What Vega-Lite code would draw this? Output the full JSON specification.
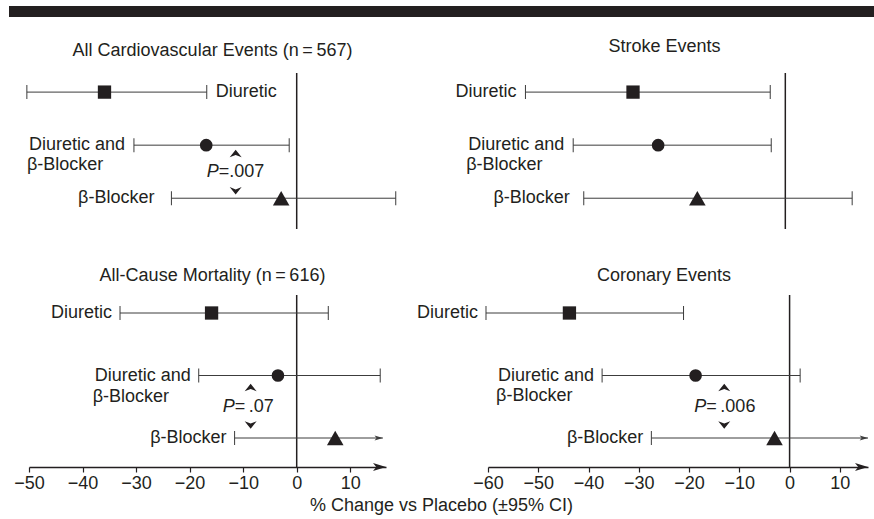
{
"$schema": "https://vega.github.io/schema/vega-lite/v6.json",
"padding": {"left": 9, "top": 6, "right": 0, "bottom": 2},
"background": "white",
"config": {
  "font": "Liberation Sans",
  "view": {"stroke": null},
  "title": {"fontSize": 18, "fontWeight": "normal", "color": "#231f20", "font": "Liberation Sans"},
  "text": {"fontSize": 18, "color": "#231f20", "font": "Liberation Sans"}
},
"datasets": {
  "ref": [{"change": 0}],
  "ci": [
    {"panel": "TL", "group": "Diuretic", "row": 1, "lo": -50.4, "est": -35.9, "hi": -16.8, "label": "Diuretic"},
    {"panel": "TL", "group": "Both", "row": 2, "lo": -30.4, "est": -16.9, "hi": -1.4, "label": "Diuretic and", "label2": "β-Blocker"},
    {"panel": "TL", "group": "Beta", "row": 3, "lo": -23.4, "est": -2.9, "hi": 18.5, "label": "β-Blocker"},
    {"panel": "TR", "group": "Diuretic", "row": 1, "lo": -51.7, "est": -30.3, "hi": -3.0, "label": "Diuretic"},
    {"panel": "TR", "group": "Both", "row": 2, "lo": -42.2, "est": -25.3, "hi": -2.8, "label": "Diuretic and", "label2": "β-Blocker"},
    {"panel": "TR", "group": "Beta", "row": 3, "lo": -40.1, "est": -17.5, "hi": 13.3, "label": "β-Blocker"},
    {"panel": "BL", "group": "Diuretic", "row": 1, "lo": -33.0, "est": -15.9, "hi": 5.9, "label": "Diuretic"},
    {"panel": "BL", "group": "Both", "row": 2, "lo": -18.3, "est": -3.5, "hi": 15.6, "label": "Diuretic and", "label2": "β-Blocker"},
    {"panel": "BL", "group": "Beta", "row": 3, "lo": -11.6, "est": 7.2, "hi": 16.1, "label": "β-Blocker", "truncated": true},
    {"panel": "BR", "group": "Diuretic", "row": 1, "lo": -60.4, "est": -43.8, "hi": -21.1, "label": "Diuretic"},
    {"panel": "BR", "group": "Both", "row": 2, "lo": -37.3, "est": -18.7, "hi": 2.1, "label": "Diuretic and", "label2": "β-Blocker"},
    {"panel": "BR", "group": "Beta", "row": 3, "lo": -27.5, "est": -3.0, "hi": 15.6, "label": "β-Blocker", "truncated": true}
  ],
  "pv": [
    {"panel": "TL", "px": -11.4, "p": "=.007"},
    {"panel": "BL", "px": -8.6, "p": "\u2009=\u2009.07"},
    {"panel": "BR", "px": -13.0, "p": "\u2009=\u2009.006"}
  ]
},
"title": {"text": "% Change vs Placebo (±95% CI)", "orient": "bottom", "anchor": "middle", "fontSize": 18, "fontWeight": "normal", "color": "#231f20", "offset": 5},
"bounds": "flush",
"spacing": 56,
"resolve": {"scale": {"x": "independent", "y": "independent"}},
"vconcat": [
  {"width": 865, "height": 11, "data": {"values": []}, "mark": "point", "view": {"fill": "#231f20", "stroke": null}},
  {"bounds": "flush", "spacing": 0, "resolve": {"scale": {"x": "independent", "y": "independent"}},
   "hconcat": [
    {"width": 20, "height": 10, "data": {"values": []}, "mark": "point"},
    {"bounds": "flush", "columns": 2, "align": "each", "spacing": {"row": 66, "column": 102},
     "resolve": {"scale": {"x": "independent", "y": "independent"}},
     "concat": [
        {"width": 357, "height": 156,
         "title": {"text": "All Cardiovascular Events (n\u2009=\u2009567)", "anchor": "middle", "dx": 5, "offset": 12},
         "layer": [
          {"data": {"name": "ref"}, "mark": {"type": "rule", "color": "#231f20", "strokeWidth": 1.5},
           "encoding": {"x": {"field": "change", "type": "quantitative", "scale": {"domain": [-50, 16.68], "nice": false, "zero": false}, "axis": null}}},
          {"data": {"name": "ci"}, "transform": [{"filter": "datum.panel === 'TL'"}],
           "layer": [
            {"mark": {"type": "rule", "color": "#3c3c3c", "strokeWidth": 1},
             "encoding": {"x": {"field": "lo", "type": "quantitative", "axis": null}, "x2": {"field": "hi"},
                          "y": {"field": "row", "type": "quantitative", "scale": {"domain": [0.64, 3.58], "nice": false, "zero": false, "reverse": true}, "axis": null}}},
            {"mark": {"type": "tick", "orient": "vertical", "size": 14, "thickness": 1, "color": "#3c3c3c", "opacity": 1},
             "encoding": {"x": {"field": "lo", "type": "quantitative", "axis": null}, "y": {"field": "row", "type": "quantitative", "axis": null}}},
            {"transform": [{"filter": "!datum.truncated"}],
             "mark": {"type": "tick", "orient": "vertical", "size": 14, "thickness": 1, "color": "#3c3c3c", "opacity": 1},
             "encoding": {"x": {"field": "hi", "type": "quantitative", "axis": null}, "y": {"field": "row", "type": "quantitative", "axis": null}}},
            {"mark": {"type": "point", "filled": true, "opacity": 1, "color": "#231f20"},
             "encoding": {"x": {"field": "est", "type": "quantitative", "axis": null}, "y": {"field": "row", "type": "quantitative", "axis": null},
                          "shape": {"field": "group", "type": "nominal", "scale": {"type": "ordinal", "domain": ["Diuretic", "Both", "Beta"], "range": ["square", "circle", "triangle-up"]}, "legend": null},
                          "size": {"field": "group", "type": "nominal", "scale": {"type": "ordinal", "domain": ["Diuretic", "Both", "Beta"], "range": [177, 160, 275]}, "legend": null}}},
            {"transform": [{"filter": "datum.group === 'Both'"}],
             "mark": {"type": "text", "align": "right", "baseline": "middle", "dx": -9},
             "encoding": {"x": {"field": "lo", "type": "quantitative", "axis": null}, "y": {"field": "row", "type": "quantitative", "axis": null}, "text": {"field": "label"}}},
            {"transform": [{"filter": "datum.group === 'Beta'"}],
             "mark": {"type": "text", "align": "right", "baseline": "middle", "dx": -17},
             "encoding": {"x": {"field": "lo", "type": "quantitative", "axis": null}, "y": {"field": "row", "type": "quantitative", "axis": null}, "text": {"field": "label"}}},
            {"transform": [{"filter": "datum.group === 'Diuretic'"}],
             "mark": {"type": "text", "align": "left", "baseline": "middle", "dx": 9},
             "encoding": {"x": {"field": "hi", "type": "quantitative", "axis": null}, "y": {"field": "row", "type": "quantitative", "axis": null}, "text": {"field": "label"}}},
            {"transform": [{"filter": "datum.label2"}],
             "mark": {"type": "text", "align": "left", "baseline": "middle", "dx": -107, "dy": 20},
             "encoding": {"x": {"field": "lo", "type": "quantitative", "axis": null}, "y": {"field": "row", "type": "quantitative", "axis": null}, "text": {"field": "label2"}}}
           ]},
          {"data": {"name": "pv"}, "transform": [{"filter": "datum.panel === 'TL'"}],
           "layer": [
            {"mark": {"type": "text", "text": "P", "fontStyle": "italic", "align": "right", "baseline": "middle", "dx": -17},
             "encoding": {"x": {"field": "px", "type": "quantitative", "axis": null}, "y": {"datum": 2.5, "axis": null}}},
            {"mark": {"type": "text", "align": "left", "baseline": "middle", "dx": -17},
             "encoding": {"x": {"field": "px", "type": "quantitative", "axis": null}, "y": {"datum": 2.5, "axis": null}, "text": {"field": "p"}}},
            {"mark": {"type": "point", "shape": "M0,-0.65L1,0.6L0,0.2L-1,0.6Z", "size": 144, "filled": true, "opacity": 1, "color": "#231f20", "yOffset": -18},
             "encoding": {"x": {"field": "px", "type": "quantitative", "axis": null}, "y": {"datum": 2.5, "axis": null}}},
            {"mark": {"type": "point", "shape": "M0,0.65L1,-0.6L0,-0.2L-1,-0.6Z", "size": 144, "filled": true, "opacity": 1, "color": "#231f20", "yOffset": 19},
             "encoding": {"x": {"field": "px", "type": "quantitative", "axis": null}, "y": {"datum": 2.5, "axis": null}}}
           ]}
         ]},
        {"width": 380, "height": 156,
         "title": {"text": "Stroke Events", "anchor": "middle", "dx": -13.5, "offset": 16},
         "layer": [
          {"data": {"name": "ref"}, "mark": {"type": "rule", "color": "#231f20", "strokeWidth": 1.5},
           "encoding": {"x": {"field": "change", "type": "quantitative", "scale": {"domain": [-59.15, 16.45], "nice": false, "zero": false}, "axis": null}}},
          {"data": {"name": "ci"}, "transform": [{"filter": "datum.panel === 'TR'"}],
           "layer": [
            {"mark": {"type": "rule", "color": "#3c3c3c", "strokeWidth": 1},
             "encoding": {"x": {"field": "lo", "type": "quantitative", "axis": null}, "x2": {"field": "hi"},
                          "y": {"field": "row", "type": "quantitative", "scale": {"domain": [0.64, 3.58], "nice": false, "zero": false, "reverse": true}, "axis": null}}},
            {"mark": {"type": "tick", "orient": "vertical", "size": 14, "thickness": 1, "color": "#3c3c3c", "opacity": 1},
             "encoding": {"x": {"field": "lo", "type": "quantitative", "axis": null}, "y": {"field": "row", "type": "quantitative", "axis": null}}},
            {"transform": [{"filter": "!datum.truncated"}],
             "mark": {"type": "tick", "orient": "vertical", "size": 14, "thickness": 1, "color": "#3c3c3c", "opacity": 1},
             "encoding": {"x": {"field": "hi", "type": "quantitative", "axis": null}, "y": {"field": "row", "type": "quantitative", "axis": null}}},
            {"mark": {"type": "point", "filled": true, "opacity": 1, "color": "#231f20"},
             "encoding": {"x": {"field": "est", "type": "quantitative", "axis": null}, "y": {"field": "row", "type": "quantitative", "axis": null},
                          "shape": {"field": "group", "type": "nominal", "scale": {"type": "ordinal", "domain": ["Diuretic", "Both", "Beta"], "range": ["square", "circle", "triangle-up"]}, "legend": null},
                          "size": {"field": "group", "type": "nominal", "scale": {"type": "ordinal", "domain": ["Diuretic", "Both", "Beta"], "range": [177, 160, 275]}, "legend": null}}},
            {"transform": [{"filter": "datum.group !== 'Beta'"}],
             "mark": {"type": "text", "align": "right", "baseline": "middle", "dx": -9},
             "encoding": {"x": {"field": "lo", "type": "quantitative", "axis": null}, "y": {"field": "row", "type": "quantitative", "axis": null}, "text": {"field": "label"}}},
            {"transform": [{"filter": "datum.group === 'Beta'"}],
             "mark": {"type": "text", "align": "right", "baseline": "middle", "dx": -14},
             "encoding": {"x": {"field": "lo", "type": "quantitative", "axis": null}, "y": {"field": "row", "type": "quantitative", "axis": null}, "text": {"field": "label"}}},
            {"transform": [{"filter": "datum.label2"}],
             "mark": {"type": "text", "align": "left", "baseline": "middle", "dx": -107, "dy": 20},
             "encoding": {"x": {"field": "lo", "type": "quantitative", "axis": null}, "y": {"field": "row", "type": "quantitative", "axis": null}, "text": {"field": "label2"}}}
           ]}
         ]},
        {"width": 357, "height": 172,
         "title": {"text": "All-Cause Mortality (n\u2009=\u2009616)", "anchor": "middle", "dx": 5, "offset": 9},
         "layer": [
          {"data": {"name": "ref"}, "mark": {"type": "rule", "color": "#231f20", "strokeWidth": 1.5},
           "encoding": {"x": {"field": "change", "type": "quantitative", "scale": {"domain": [-50, 16.68], "nice": false, "zero": false},
             "axis": {"values": [-50, -40, -30, -20, -10, 0, 10], "title": null, "grid": false, "domainColor": "#231f20", "domainWidth": 1.5, "tickColor": "#231f20", "tickSize": 5, "tickWidth": 1.2, "labelFontSize": 18, "labelColor": "#231f20", "labelPadding": 2, "labelFlush": false, "labelOverlap": false, "labelFont": "Liberation Sans"}}}},
          {"data": {"name": "ref"}, "mark": {"type": "point", "shape": "M0,0L-2,-0.6L-1.5,0L-2,0.6Z", "size": 169, "filled": true, "opacity": 1, "color": "#231f20"},
           "encoding": {"x": {"datum": 16.68}, "y": {"datum": 3.464, "axis": null}}},
          {"data": {"name": "ci"}, "transform": [{"filter": "datum.panel === 'BL'"}],
           "layer": [
            {"mark": {"type": "rule", "color": "#3c3c3c", "strokeWidth": 1},
             "encoding": {"x": {"field": "lo", "type": "quantitative"}, "x2": {"field": "hi"},
                          "y": {"field": "row", "type": "quantitative", "scale": {"domain": [0.712, 3.464], "nice": false, "zero": false, "reverse": true}, "axis": null}}},
            {"mark": {"type": "tick", "orient": "vertical", "size": 14, "thickness": 1, "color": "#3c3c3c", "opacity": 1},
             "encoding": {"x": {"field": "lo", "type": "quantitative"}, "y": {"field": "row", "type": "quantitative", "axis": null}}},
            {"transform": [{"filter": "!datum.truncated"}],
             "mark": {"type": "tick", "orient": "vertical", "size": 14, "thickness": 1, "color": "#3c3c3c", "opacity": 1},
             "encoding": {"x": {"field": "hi", "type": "quantitative"}, "y": {"field": "row", "type": "quantitative", "axis": null}}},
            {"transform": [{"filter": "datum.truncated"}],
             "mark": {"type": "point", "shape": "M0,0L-2,-0.6L-1.5,0L-2,0.6Z", "size": 70, "filled": true, "opacity": 1, "color": "#3c3c3c"},
             "encoding": {"x": {"field": "hi", "type": "quantitative"}, "y": {"field": "row", "type": "quantitative", "axis": null}}},
            {"mark": {"type": "point", "filled": true, "opacity": 1, "color": "#231f20"},
             "encoding": {"x": {"field": "est", "type": "quantitative"}, "y": {"field": "row", "type": "quantitative", "axis": null},
                          "shape": {"field": "group", "type": "nominal", "scale": {"type": "ordinal", "domain": ["Diuretic", "Both", "Beta"], "range": ["square", "circle", "triangle-up"]}, "legend": null},
                          "size": {"field": "group", "type": "nominal", "scale": {"type": "ordinal", "domain": ["Diuretic", "Both", "Beta"], "range": [177, 160, 275]}, "legend": null}}},
            {"mark": {"type": "text", "align": "right", "baseline": "middle", "dx": -8},
             "encoding": {"x": {"field": "lo", "type": "quantitative"}, "y": {"field": "row", "type": "quantitative", "axis": null}, "text": {"field": "label"}}},
            {"transform": [{"filter": "datum.label2"}],
             "mark": {"type": "text", "align": "left", "baseline": "middle", "dx": -106, "dy": 21},
             "encoding": {"x": {"field": "lo", "type": "quantitative"}, "y": {"field": "row", "type": "quantitative", "axis": null}, "text": {"field": "label2"}}}
           ]},
          {"data": {"name": "pv"}, "transform": [{"filter": "datum.panel === 'BL'"}],
           "layer": [
            {"mark": {"type": "text", "text": "P", "fontStyle": "italic", "align": "right", "baseline": "middle", "dx": -16},
             "encoding": {"x": {"field": "px", "type": "quantitative"}, "y": {"datum": 2.5, "axis": null}}},
            {"mark": {"type": "text", "align": "left", "baseline": "middle", "dx": -16},
             "encoding": {"x": {"field": "px", "type": "quantitative"}, "y": {"datum": 2.5, "axis": null}, "text": {"field": "p"}}},
            {"mark": {"type": "point", "shape": "M0,-0.65L1,0.6L0,0.2L-1,0.6Z", "size": 144, "filled": true, "opacity": 1, "color": "#231f20", "yOffset": -19},
             "encoding": {"x": {"field": "px", "type": "quantitative"}, "y": {"datum": 2.5, "axis": null}}},
            {"mark": {"type": "point", "shape": "M0,0.65L1,-0.6L0,-0.2L-1,-0.6Z", "size": 144, "filled": true, "opacity": 1, "color": "#231f20", "yOffset": 18},
             "encoding": {"x": {"field": "px", "type": "quantitative"}, "y": {"datum": 2.5, "axis": null}}}
           ]}
         ]},
        {"width": 380, "height": 172,
         "title": {"text": "Coronary Events", "anchor": "middle", "dx": -14, "offset": 9},
         "layer": [
          {"data": {"name": "ref"}, "mark": {"type": "rule", "color": "#231f20", "strokeWidth": 1.5},
           "encoding": {"x": {"field": "change", "type": "quantitative", "scale": {"domain": [-60, 15.6], "nice": false, "zero": false},
             "axis": {"values": [-60, -50, -40, -30, -20, -10, 0, 10], "title": null, "grid": false, "domainColor": "#231f20", "domainWidth": 1.5, "tickColor": "#231f20", "tickSize": 5, "tickWidth": 1.2, "labelFontSize": 18, "labelColor": "#231f20", "labelPadding": 2, "labelFlush": false, "labelOverlap": false, "labelFont": "Liberation Sans"}}}},
          {"data": {"name": "ref"}, "mark": {"type": "point", "shape": "M0,0L-2,-0.6L-1.5,0L-2,0.6Z", "size": 169, "filled": true, "opacity": 1, "color": "#231f20"},
           "encoding": {"x": {"datum": 15.6}, "y": {"datum": 3.464, "axis": null}}},
          {"data": {"name": "ci"}, "transform": [{"filter": "datum.panel === 'BR'"}],
           "layer": [
            {"mark": {"type": "rule", "color": "#3c3c3c", "strokeWidth": 1},
             "encoding": {"x": {"field": "lo", "type": "quantitative"}, "x2": {"field": "hi"},
                          "y": {"field": "row", "type": "quantitative", "scale": {"domain": [0.712, 3.464], "nice": false, "zero": false, "reverse": true}, "axis": null}}},
            {"mark": {"type": "tick", "orient": "vertical", "size": 14, "thickness": 1, "color": "#3c3c3c", "opacity": 1},
             "encoding": {"x": {"field": "lo", "type": "quantitative"}, "y": {"field": "row", "type": "quantitative", "axis": null}}},
            {"transform": [{"filter": "!datum.truncated"}],
             "mark": {"type": "tick", "orient": "vertical", "size": 14, "thickness": 1, "color": "#3c3c3c", "opacity": 1},
             "encoding": {"x": {"field": "hi", "type": "quantitative"}, "y": {"field": "row", "type": "quantitative", "axis": null}}},
            {"transform": [{"filter": "datum.truncated"}],
             "mark": {"type": "point", "shape": "M0,0L-2,-0.6L-1.5,0L-2,0.6Z", "size": 70, "filled": true, "opacity": 1, "color": "#3c3c3c"},
             "encoding": {"x": {"field": "hi", "type": "quantitative"}, "y": {"field": "row", "type": "quantitative", "axis": null}}},
            {"mark": {"type": "point", "filled": true, "opacity": 1, "color": "#231f20"},
             "encoding": {"x": {"field": "est", "type": "quantitative"}, "y": {"field": "row", "type": "quantitative", "axis": null},
                          "shape": {"field": "group", "type": "nominal", "scale": {"type": "ordinal", "domain": ["Diuretic", "Both", "Beta"], "range": ["square", "circle", "triangle-up"]}, "legend": null},
                          "size": {"field": "group", "type": "nominal", "scale": {"type": "ordinal", "domain": ["Diuretic", "Both", "Beta"], "range": [177, 160, 275]}, "legend": null}}},
            {"mark": {"type": "text", "align": "right", "baseline": "middle", "dx": -8},
             "encoding": {"x": {"field": "lo", "type": "quantitative"}, "y": {"field": "row", "type": "quantitative", "axis": null}, "text": {"field": "label"}}},
            {"transform": [{"filter": "datum.label2"}],
             "mark": {"type": "text", "align": "left", "baseline": "middle", "dx": -106, "dy": 20},
             "encoding": {"x": {"field": "lo", "type": "quantitative"}, "y": {"field": "row", "type": "quantitative", "axis": null}, "text": {"field": "label2"}}}
           ]},
          {"data": {"name": "pv"}, "transform": [{"filter": "datum.panel === 'BR'"}],
           "layer": [
            {"mark": {"type": "text", "text": "P", "fontStyle": "italic", "align": "right", "baseline": "middle", "dx": -18},
             "encoding": {"x": {"field": "px", "type": "quantitative"}, "y": {"datum": 2.5, "axis": null}}},
            {"mark": {"type": "text", "align": "left", "baseline": "middle", "dx": -18},
             "encoding": {"x": {"field": "px", "type": "quantitative"}, "y": {"datum": 2.5, "axis": null}, "text": {"field": "p"}}},
            {"mark": {"type": "point", "shape": "M0,-0.65L1,0.6L0,0.2L-1,0.6Z", "size": 144, "filled": true, "opacity": 1, "color": "#231f20", "yOffset": -19},
             "encoding": {"x": {"field": "px", "type": "quantitative"}, "y": {"datum": 2.5, "axis": null}}},
            {"mark": {"type": "point", "shape": "M0,0.65L1,-0.6L0,-0.2L-1,-0.6Z", "size": 144, "filled": true, "opacity": 1, "color": "#231f20", "yOffset": 18},
             "encoding": {"x": {"field": "px", "type": "quantitative"}, "y": {"datum": 2.5, "axis": null}}}
           ]}
         ]}
     ]}
   ]}
]
}
